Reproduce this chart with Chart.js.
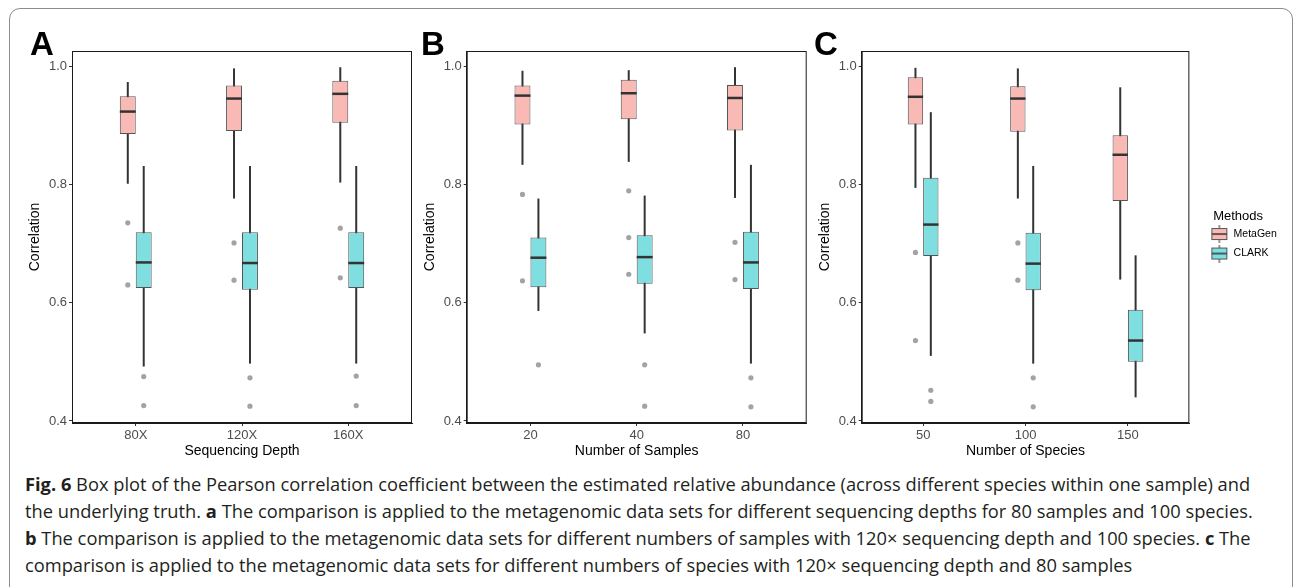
<!DOCTYPE html>
<html>
<head>
<meta charset="utf-8">
<script src="https://cdn.jsdelivr.net/npm/chart.js@4.4.0/dist/chart.umd.min.js"></script>
<style>
  body { margin: 0; background: #fff; width: 1293px; height: 587px; overflow: hidden; position: relative; }
  #frame { position: absolute; left: 9px; top: 8px; width: 1284px; height: 640px; border: 1.5px solid #8c8c8c; border-radius: 11px; box-sizing: border-box; }
  .panel { position: absolute; top: 0; height: 470px; }
  .tag { position: absolute; top: 27px; font: bold 33px/33px "Liberation Sans", Arial, sans-serif; color: #000; }
  #caption { position: absolute; left: 25px; top: 470px; font: 18.3px/27px "Open Sans", sans-serif; color: #231f20; white-space: nowrap; }
</style>
</head>
<body>
<div id="frame"></div>
<canvas id="chartA" class="panel" style="left:0px" width="420" height="470"></canvas>
<canvas id="chartB" class="panel" style="left:400px" width="420" height="470"></canvas>
<canvas id="chartC" class="panel" style="left:800px" width="493" height="470"></canvas>
<div class="tag" style="left:30px">A</div>
<div class="tag" style="left:421px">B</div>
<div class="tag" style="left:814px">C</div>
<div id="caption"><b>Fig. 6</b> Box plot of the Pearson correlation coefficient between the estimated relative abundance (across different species within one sample) and<br>the underlying truth. <b>a</b> The comparison is applied to the metagenomic data sets for different sequencing depths for 80 samples and 100 species.<br><b>b</b> The comparison is applied to the metagenomic data sets for different numbers of samples with 120&#215; sequencing depth and 100 species. <b>c</b> The<br>comparison is applied to the metagenomic data sets for different numbers of species with 120&#215; sequencing depth and 80 samples</div>
<script>
// each row: lower whisker, Q1, median, Q3, upper whisker
const depthLabels = ['80X', '120X', '160X'];
const depthMetaGen = [
  [0.801, 0.885, 0.923, 0.949, 0.973],
  [0.776, 0.890, 0.945, 0.967, 0.996],
  [0.803, 0.904, 0.953, 0.975, 0.998]
];
const depthClark = [
  [0.492, 0.625, 0.668, 0.719, 0.831],
  [0.497, 0.622, 0.667, 0.719, 0.831],
  [0.497, 0.625, 0.667, 0.719, 0.831]
];
const depthMetaGenOut = [[0.735, 0.630], [0.701, 0.638], [0.726, 0.642]];
const depthClarkOut = [[0.475, 0.426], [0.473, 0.425], [0.476, 0.426]];

const sampleLabels = ['20', '40', '80'];
const sampleMetaGen = [
  [0.833, 0.901, 0.950, 0.967, 0.992],
  [0.838, 0.910, 0.954, 0.977, 0.993],
  [0.777, 0.891, 0.946, 0.968, 0.998]
];
const sampleClark = [
  [0.586, 0.626, 0.676, 0.710, 0.776],
  [0.548, 0.632, 0.677, 0.714, 0.781],
  [0.497, 0.623, 0.668, 0.720, 0.833]
];
const sampleMetaGenOut = [[0.783, 0.637], [0.789, 0.710, 0.648], [0.702, 0.639]];
const sampleClarkOut = [[0.495], [0.495, 0.425], [0.473, 0.424]];

const speciesLabels = ['50', '100', '150'];
const speciesMetaGen = [
  [0.794, 0.901, 0.948, 0.981, 0.997],
  [0.776, 0.889, 0.945, 0.966, 0.996],
  [0.639, 0.772, 0.850, 0.883, 0.964]
];
const speciesClark = [
  [0.510, 0.679, 0.732, 0.811, 0.922],
  [0.497, 0.621, 0.666, 0.718, 0.831],
  [0.440, 0.500, 0.536, 0.588, 0.680]
];
const speciesMetaGenOut = [[0.685, 0.536], [0.701, 0.638], []];
const speciesClarkOut = [[0.452, 0.433], [0.473, 0.424], []];

const yTicks = [0.4, 0.6, 0.8, 1.0];
const methods = ['MetaGen', 'CLARK'];
const fills = ['#f9bab5', '#7fdfe0'];

const catPct = 0.3; // two boxes share 30% of a category step

// legend key: box with whisker and median, drawn on a small canvas
function keyGlyph(fill) {
  const c = document.createElement('canvas');
  c.width = 30; c.height = 18;
  const g = c.getContext('2d');
  g.strokeStyle = '#333'; g.lineWidth = 1;
  g.beginPath(); g.moveTo(21, 0); g.lineTo(21, 18); g.stroke();
  g.fillStyle = fill; g.fillRect(13, 3, 16, 12);
  g.strokeStyle = '#555'; g.strokeRect(13.5, 3.5, 15, 11);
  g.strokeStyle = '#333'; g.lineWidth = 1.5;
  g.beginPath(); g.moveTo(13.5, 9); g.lineTo(28.5, 9); g.stroke();
  return c;
}

function outlierPoints(out, shift) {
  const pts = [];
  out.forEach((vals, i) => vals.forEach(v => pts.push({x: i + 1 + shift, y: v})));
  return pts;
}

// whiskers under the boxes, medians and panel frame on top
const boxPlot = {
  id: 'boxPlot',
  beforeDatasetsDraw(chart) {
    const ctx = chart.ctx, y = chart.scales.y;
    ctx.save();
    ctx.strokeStyle = '#333';
    ctx.lineWidth = 2;
    chart.data.datasets.forEach((ds, di) => {
      if (!ds.stats) return;
      chart.getDatasetMeta(di).data.forEach((bar, i) => {
        const s = ds.stats[i];
        ctx.beginPath();
        ctx.moveTo(bar.x, y.getPixelForValue(s[0]));
        ctx.lineTo(bar.x, y.getPixelForValue(s[4]));
        ctx.stroke();
      });
    });
    ctx.restore();
  },
  afterDatasetsDraw(chart) {
    const ctx = chart.ctx, y = chart.scales.y;
    ctx.save();
    ctx.strokeStyle = '#333';
    ctx.lineWidth = 2.5;
    chart.data.datasets.forEach((ds, di) => {
      if (!ds.stats) return;
      chart.getDatasetMeta(di).data.forEach((bar, i) => {
        const py = y.getPixelForValue(ds.stats[i][2]);
        ctx.beginPath();
        ctx.moveTo(bar.x - bar.width / 2, py);
        ctx.lineTo(bar.x + bar.width / 2, py);
        ctx.stroke();
      });
    });
    const a = chart.chartArea;
    ctx.strokeStyle = '#1a1a1a';
    ctx.lineWidth = 1;
    ctx.strokeRect(a.left + 0.5, a.top + 0.5, a.width - 1, a.height - 1);
    ctx.restore();
  }
};

function makePanel(id, labels, metaStats, clarkStats, metaOut, clarkOut, xTitle, lay) {
  const stats = [metaStats, clarkStats];
  const datasets = stats.map((st, k) => ({
    type: 'bar',
    label: methods[k],
    stats: st,
    data: st.map((s, i) => ({x: i + 1, y: [s[1], s[3]]})),
    backgroundColor: fills[k],
    borderColor: '#555',
    borderWidth: 1,
    borderSkipped: false,
    categoryPercentage: catPct,
    barPercentage: 1
  }));
  [metaOut, clarkOut].forEach((out, k) => {
    datasets.push({
      type: 'scatter',
      label: methods[k] + ' outliers',
      data: outlierPoints(out, (k === 0 ? -1 : 1) * catPct / 4),
      backgroundColor: '#a3a3a3',
      borderWidth: 0,
      pointRadius: 2.6
    });
  });

  return new Chart(document.getElementById(id), {
    type: 'bar',
    data: {datasets: datasets},
    plugins: [boxPlot],
    options: {
      responsive: false,
      animation: false,
      layout: {padding: {top: 51, right: lay.padRight, bottom: 0, left: 0}},
      plugins: {
        tooltip: {enabled: false},
        legend: {
          display: !!lay.legend,
          position: 'right',
          align: 'center',
          fullSize: false,
          title: {
            display: true, text: 'Methods', color: '#000', position: 'center',
            font: {family: 'Liberation Sans', size: 13}, padding: {top: 4, bottom: -6}
          },
          labels: {
            usePointStyle: true, pointStyleWidth: 30, boxHeight: 11, padding: 9,
            color: '#000', font: {family: 'Liberation Sans', size: 10.5},
            generateLabels: () => methods.map((m, i) => ({
              text: m, datasetIndex: i, hidden: false, lineWidth: 0,
              fillStyle: fills[i], strokeStyle: '#555', pointStyle: keyGlyph(fills[i])
            }))
          }
        }
      },
      scales: {
        x: {
          type: 'linear', min: 0.4, max: 3.6, offset: false,
          afterBuildTicks: s => { s.ticks = labels.map((l, i) => ({value: i + 1})); },
          afterFit: s => { s.height = 47; },
          ticks: {
            callback: v => labels[v - 1], color: '#4d4d4d', padding: 2,
            autoSkip: false, maxRotation: 0, font: {family: 'Liberation Sans', size: 13}
          },
          grid: {offset: false, drawOnChartArea: false, drawTicks: true, tickLength: 3, color: '#333'},
          border: {display: true, color: '#1a1a1a', width: 1},
          title: {
            display: true, text: xTitle, color: '#000',
            font: {family: 'Liberation Sans', size: 14}, padding: {top: 0, bottom: 10}
          }
        },
        y: {
          min: 0.3966, max: 1.0254,
          afterBuildTicks: s => { s.ticks = yTicks.map(v => ({value: v})); },
          afterFit: s => { s.width = lay.axisW; },
          ticks: {
            callback: v => v.toFixed(1), color: '#4d4d4d', padding: 2,
            font: {family: 'Liberation Sans', size: 13}
          },
          grid: {offset: false, drawOnChartArea: false, drawTicks: true, tickLength: 3, color: '#333'},
          border: {display: true, color: '#1a1a1a', width: 1},
          title: {
            display: true, text: 'Correlation', color: '#000',
            font: {family: 'Liberation Sans', size: 14}, padding: {top: lay.titleOff, bottom: 0}
          }
        }
      }
    }
  });
}

makePanel('chartA', depthLabels, depthMetaGen, depthClark, depthMetaGenOut, depthClarkOut,
  'Sequencing Depth', {axisW: 72, padRight: 8, titleOff: 26.6});
makePanel('chartB', sampleLabels, sampleMetaGen, sampleClark, sampleMetaGenOut, sampleClarkOut,
  'Number of Samples', {axisW: 66.7, padRight: 13.3, titleOff: 21.6});
makePanel('chartC', speciesLabels, speciesMetaGen, speciesClark, speciesMetaGenOut, speciesClarkOut,
  'Number of Species', {axisW: 61.7, padRight: 6.2, titleOff: 16.6, legend: true});
</script>
</body>
</html>
